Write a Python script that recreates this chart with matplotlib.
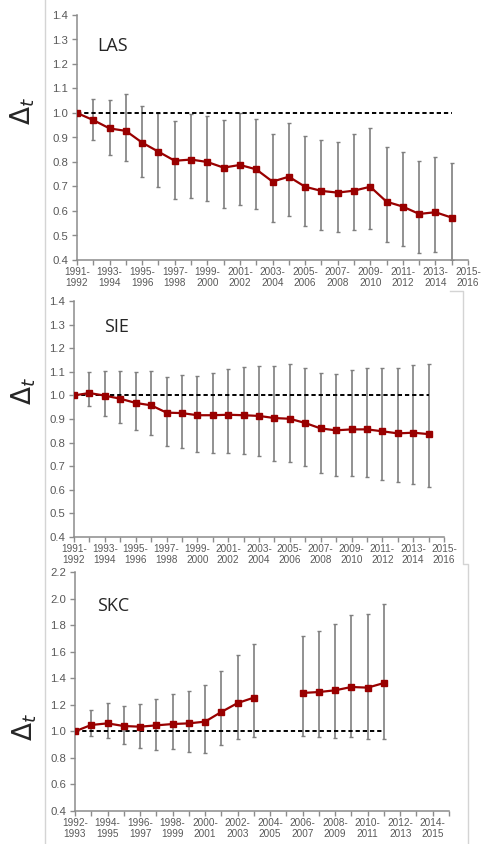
import matplotlib
matplotlib.use('Agg')
import matplotlib.pyplot as plt
import numpy as np
from matplotlib.lines import Line2D

nan = np.nan

# 1991-1992 ... 2015-2016 (LAS, SIE)
cats_a = ['1991-1992', '1992-1993', '1993-1994', '1994-1995', '1995-1996',
          '1996-1997', '1997-1998', '1998-1999', '1999-2000', '2000-2001',
          '2001-2002', '2002-2003', '2003-2004', '2004-2005', '2005-2006',
          '2006-2007', '2007-2008', '2008-2009', '2009-2010', '2010-2011',
          '2011-2012', '2012-2013', '2013-2014', '2014-2015', '2015-2016']
# 1992-1993 ... 2015-2016 (SKC)
cats_b = ['1992-1993', '1993-1994', '1994-1995', '1995-1996', '1996-1997',
          '1997-1998', '1998-1999', '1999-2000', '2000-2001', '2001-2002',
          '2002-2003', '2003-2004', '2004-2005', '2005-2006', '2006-2007',
          '2007-2008', '2008-2009', '2009-2010', '2010-2011', '2011-2012',
          '2012-2013', '2013-2014', '2014-2015', '2015-2016']

las_vals = [1.000, 0.971, 0.937, 0.927, 0.879, 0.842, 0.805, 0.810, 0.800, 0.777,
            0.788, 0.770, 0.720, 0.740, 0.699, 0.682, 0.675, 0.683, 0.699, 0.638,
            0.618, 0.588, 0.595, 0.573]
las_hi = [1.000, 1.057, 1.053, 1.076, 1.029, 0.999, 0.967, 0.994, 0.987, 0.971,
          0.998, 0.977, 0.914, 0.958, 0.906, 0.890, 0.883, 0.913, 0.937, 0.863,
          0.839, 0.804, 0.819, 0.795]
las_lo = [1.000, 0.890, 0.829, 0.804, 0.740, 0.697, 0.648, 0.655, 0.642, 0.614,
          0.626, 0.607, 0.556, 0.581, 0.539, 0.522, 0.516, 0.522, 0.525, 0.475,
          0.457, 0.430, 0.433, 0.402]

sie_vals = [1.000, 1.010, 0.999, 0.986, 0.968, 0.958, 0.927, 0.925, 0.916, 0.916,
            0.918, 0.916, 0.913, 0.904, 0.901, 0.883, 0.860, 0.852, 0.856, 0.856,
            0.848, 0.839, 0.842, 0.836]
sie_hi = [1.000, 1.099, 1.103, 1.105, 1.099, 1.105, 1.077, 1.086, 1.084, 1.095,
          1.110, 1.120, 1.125, 1.126, 1.134, 1.118, 1.093, 1.091, 1.108, 1.116,
          1.118, 1.115, 1.130, 1.132]
sie_lo = [1.000, 0.954, 0.914, 0.883, 0.853, 0.832, 0.786, 0.779, 0.762, 0.755,
          0.755, 0.750, 0.742, 0.723, 0.718, 0.701, 0.673, 0.658, 0.658, 0.653,
          0.642, 0.632, 0.625, 0.612]

skc_vals = [1.000, 1.048, 1.060, 1.040, 1.035, 1.045, 1.055, 1.060, 1.073, 1.146,
            1.213, 1.254, nan, nan, 1.289, 1.296, 1.309, 1.334, 1.329, 1.364,
            nan, nan, nan, nan]
skc_hi = [1.000, 1.158, 1.213, 1.193, 1.206, 1.244, 1.279, 1.306, 1.347, 1.452,
          1.572, 1.655, nan, nan, 1.716, 1.758, 1.806, 1.876, 1.886, 1.962,
          nan, nan, nan, nan]
skc_lo = [1.000, 0.965, 0.952, 0.902, 0.872, 0.862, 0.867, 0.844, 0.839, 0.895,
          0.942, 0.957, nan, nan, 0.967, 0.957, 0.950, 0.957, 0.940, 0.945,
          nan, nan, nan, nan]

W, H = 483, 844
RED = '#990000'
GRAY_TXT = '#595959'
AX_COL = '#8c8c8c'
TICK_FONT = ['Liberation Sans', 'DejaVu Sans']


def px_axes(fig, left, top, right, bottom):
    return fig.add_axes([left / W, 1 - bottom / H, (right - left) / W, (bottom - top) / H])


def draw_panel(ax, cats, vals, hi, lo, name, ylim, ystep, name_pos, lab_y):
    n = len(cats)
    x = np.arange(n)
    v = np.array(vals + [nan] * (n - len(vals)))
    h = np.array(hi + [nan] * (n - len(hi)))
    l = np.array(lo + [nan] * (n - len(lo)))
    ok = ~np.isnan(v)

    ax.errorbar(x[ok], v[ok], yerr=[v[ok] - l[ok], h[ok] - v[ok]], fmt='none',
                ecolor='#7f7f7f', elinewidth=1.2, capsize=1.7, capthick=1.0, zorder=1)
    last = x[ok].max()
    ax.plot([0, last], [1, 1], color='black', lw=1.4, ls=(0, (2.2, 1.5)), zorder=2)
    ax.plot(x, v, color=RED, lw=1.6, marker='s', ms=4.0, mfc=RED, mec=RED, zorder=3)

    ax.set_xlim(0, n - 1)
    ax.set_ylim(*ylim)
    ax.set_yticks(np.arange(ylim[0], ylim[1] + 1e-9, ystep))
    ax.set_yticklabels(['%.1f' % t for t in ax.get_yticks()])
    ax.set_xticks(x)
    ax.set_xticklabels([c.replace('-', '-\n') if i % 2 == 0 else '' for i, c in enumerate(cats)],
                       linespacing=1.1)

    for s in ('top', 'right'):
        ax.spines[s].set_visible(False)
    for s in ('left', 'bottom'):
        ax.spines[s].set_color(AX_COL)
        ax.spines[s].set_linewidth(1.1)
    ax.tick_params(axis='both', colors=AX_COL, labelcolor=GRAY_TXT, length=3.5, width=1.0)
    ax.tick_params(axis='y', pad=3, labelsize=8.2)
    ax.tick_params(axis='x', pad=1.5, labelsize=7.2)
    for lab in ax.get_xticklabels() + ax.get_yticklabels():
        lab.set_family(TICK_FONT)

    ax.text(name_pos[0], name_pos[1], name, transform=ax.transAxes, ha='left', va='top',
            fontsize=13, color='#262626', family=['Open Sans', 'DejaVu Sans'])
    ax.text(lab_y[0], lab_y[1], r'$\Delta_t$', transform=ax.transAxes, rotation=90,
            ha='center', va='center', fontsize=19, color='#262626')
    ax.patch.set_alpha(0)


fig = plt.figure(figsize=(W / 100, H / 100), dpi=100)

# faint chart-area borders
fc = '#d4d4d4'
for xs, ys in [([45, 45], [0, 844]),
               ([450, 463, 463, 468, 468], [291, 291, 564, 564, 844])]:
    fig.add_artist(Line2D([xx / W for xx in xs], [1 - yy / H for yy in ys],
                          color=fc, lw=1.0, transform=fig.transFigure))

ax1 = px_axes(fig, 77, 15, 468, 260)
draw_panel(ax1, cats_a, las_vals, las_hi, las_lo, 'LAS', (0.4, 1.4), 0.1,
           (0.051, 0.91), (-0.14, 0.61))

ax2 = px_axes(fig, 74, 301, 444, 537)
draw_panel(ax2, cats_a, sie_vals, sie_hi, sie_lo, 'SIE', (0.4, 1.4), 0.1,
           (0.081, 0.928), (-0.135, 0.62))

ax3 = px_axes(fig, 75, 572, 449, 811)
draw_panel(ax3, cats_b, skc_vals, skc_hi, skc_lo, 'SKC', (0.4, 2.2), 0.2,
           (0.059, 0.895), (-0.135, 0.35))

fig.savefig('out.png', dpi=100, facecolor='white')
